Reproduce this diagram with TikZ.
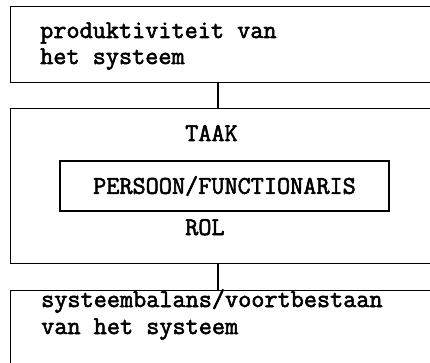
\documentclass[tikz,border=0pt]{standalone}
\usepackage{fontspec}
\setmonofont{Latin Modern Mono}[AutoFakeBold=2.2]
\begin{document}
\begin{tikzpicture}[x=1pt,y=-1pt,
  frame/.style={draw,line width=1.1pt,inner sep=0pt,anchor=north west},
  lbl/.style={font=\ttfamily\bfseries\fontsize{25.5}{29}\selectfont,inner sep=0pt,anchor=base west},
  conn/.style={line width=1.1pt}]
\useasboundingbox (0,0) rectangle (430,363);
\clip (0,0) rectangle (430,363);
\fill[white] (0,0) rectangle (430,363);
% outer boxes (open on the right: they run past the page edge)
\node[frame,minimum width=440pt,minimum height=76pt] (b1) at (10,6) {};
\node[frame,minimum width=440pt,minimum height=155pt] (b2) at (10,108) {};
\node[frame,minimum width=440pt,minimum height=90pt] (b3) at (10,290) {};
% inner box
\node[draw,line width=1.1pt,inner sep=0pt,minimum width=329pt,minimum height=50pt,
      font=\ttfamily\bfseries\fontsize{25.5}{29}\selectfont] (pf) at (224.5,186) {PERSOON/FUNCTIONARIS};
% texts
\node[lbl] (t1a) at (40,38) {produktiviteit van};
\node[lbl] (t1b) at (40,64) {het systeem};
\node[lbl] (taak) at (185,141) {TAAK};
\node[lbl] (rol) at (185,235) {ROL};
\node[lbl] (t3a) at (41,307) {systeembalans/voortbestaan};
\node[lbl] (t3b) at (41,334) {van het systeem};
% connectors
\coordinate (cx) at (218,0);
\draw[conn] (b1.south -| cx) -- (b2.north -| cx);
\draw[conn] (b2.south -| cx) -- (b3.north -| cx);
\end{tikzpicture}
\end{document}
